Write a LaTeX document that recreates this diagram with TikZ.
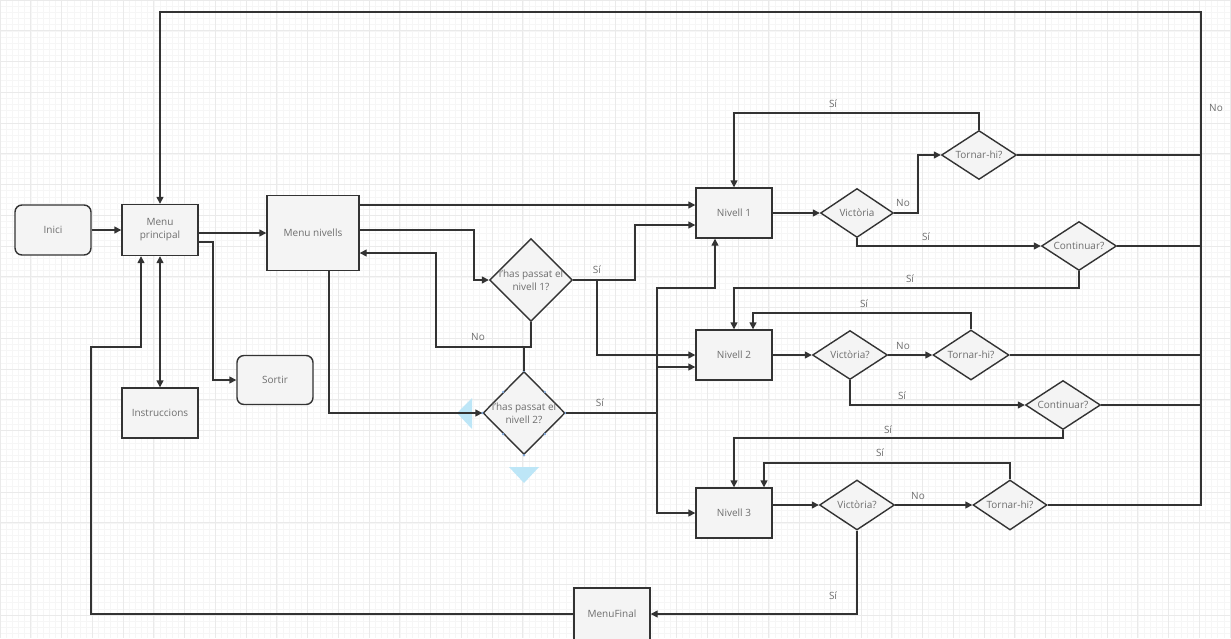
\documentclass[tikz,border=0pt]{standalone}
\usepackage{fontspec}
\setmainfont{Open Sans}
\usetikzlibrary{shapes.geometric,arrows.meta}
\definecolor{txt}{HTML}{6E6E6E}
\definecolor{edge}{HTML}{333333}
\definecolor{boxfill}{HTML}{F4F4F4}
\definecolor{gridmin}{HTML}{F6F6F6}
\definecolor{gridmaj}{HTML}{EAEAEA}
\definecolor{selblue}{HTML}{BDE6F7}
\definecolor{seldot}{HTML}{7FA8DC}
\begin{document}
\begin{tikzpicture}[x=1pt,y=-1pt,
  box/.style={draw=edge,line width=1.4pt,fill=boxfill,minimum width=76pt,minimum height=50pt,
    inner sep=0pt,text=txt,font=\fontsize{10}{13}\selectfont,align=center},
  rbox/.style={box,rounded corners=7pt},
  dia/.style={diamond,draw=edge,line width=1.4pt,fill=boxfill,inner sep=0pt,
    minimum width=75pt,minimum height=49pt},
  dtxt/.style={text=txt,font=\fontsize{10}{13}\selectfont,align=center,inner sep=0pt},
  lbl/.style={text=txt,font=\fontsize{10}{12}\selectfont,inner sep=0pt},
  con/.style={draw=edge,line width=1.4pt},
  arr/.style={con,-{Triangle[length=7pt,width=7pt]}},
  arrb/.style={con,{Triangle[length=7pt,width=7pt]}-{Triangle[length=7pt,width=7pt]}}]
\useasboundingbox (0,0) rectangle (1231,638);
\fill[white] (0,0) rectangle (1231,638);
\draw[gridmin,line width=0.5pt,step=6.15pt] (0,0) grid (1231,638);
\draw[gridmaj,line width=0.8pt,step=30.75pt] (0,0) grid (1231,638);

% selection handles
\fill[selblue] (457,413) -- (472,398) -- (472,429) -- cycle;
\fill[selblue] (509,467) -- (539,467) -- (524,483) -- cycle;

% nodes
\node[rbox] (inici) at (53,230) {Inici};
\node[box,minimum height=51pt] (mp) at (160,230) {Menu\\principal};
\node[box,minimum width=92pt,minimum height=75pt] (mn) at (313,233) {Menu nivells};
\node[rbox,minimum height=49pt] (sortir) at (275,380) {Sortir};
\node[box] (instr) at (160,413) {Instruccions};
\node[box,minimum height=52pt] (mf) at (612,614) {MenuFinal};

\node[dia,minimum width=83pt,minimum height=83pt,label={[dtxt]center:l'has passat el\\nivell 1?}] (d1) at (531,280) {};
\node[dia,minimum width=82pt,minimum height=83pt,label={[dtxt]center:l'has passat el\\nivell 2?}] (d2) at (524,413) {};
\foreach \a in {north,south,east,west,north east,north west,south east,south west}
  \fill[seldot] (d2.\a) circle (1.3pt);

\node[box] (n1) at (734,213) {Nivell 1};
\node[box] (n2) at (734,355) {Nivell 2};
\node[box] (n3) at (734,513) {Nivell 3};

\node[dia,minimum width=73pt,label={[dtxt]center:Victòria}] (v1) at (857,213) {};
\node[dia,label={[dtxt]center:Tornar-hi?}] (t1) at (979,155) {};
\node[dia,label={[dtxt]center:Continuar?}] (c1) at (1079,246) {};
\node[dia,label={[dtxt]center:Victòria?}] (v2) at (850,355) {};
\node[dia,minimum width=76pt,minimum height=50pt,label={[dtxt]center:Tornar-hi?}] (t2) at (971,355) {};
\node[dia,label={[dtxt]center:Continuar?}] (c2) at (1063,405) {};
\node[dia,minimum height=50pt,label={[dtxt]center:Victòria?}] (v3) at (857,505) {};
\node[dia,minimum width=74pt,minimum height=50pt,label={[dtxt]center:Tornar-hi?}] (t3) at (1010,505) {};

% left part
\draw[arr] (inici.east) -- (mp.west);
\draw[arr] (mp.east |- 0,233) -- (mn.west |- 0,233);
\draw[arr] (mp.east |- 0,242) -| (213,380) -- (sortir.west);
\draw[arrb] (mp.south) -- (instr.north);
\draw[arr] (mf.west) -| (91,347) -| (mp.south -| 141,0);
\draw[arr] (t3.east) -| (1201,12) -| (mp.north);
\draw[con] (t1.east) -- (t1.east -| 1201,0);
\draw[con] (c1.east) -- (c1.east -| 1201,0);
\draw[con] (t2.east) -- (t2.east -| 1201,0);
\draw[con] (c2.east) -- (c2.east -| 1201,0);
\node[lbl] (lno0) at (1216,108) {No};

% Menu nivells
\draw[arr] (mn.east |- 0,205) -- (n1.west |- 0,205);
\draw[arr] (mn.east |- 0,230) -| (474,280) -- (d1.west);
\draw[arr] (d1.east) -| (635,225) -- (n1.west |- 0,225);
\draw[arr] (d1.east -| 597,0) |- (n2.west);
\node[lbl] (lsid1) at (597,270) {Sí};
\draw[arr] (d1.south) |- (436,347) |- (mn.east |- 0,253);
\node[lbl] (lnod1) at (478,337) {No};
\draw[con] (d2.north) -- (d2.north |- 0,347);
\draw[arr] (mn.south -| 329,0) |- (d2.west);
\draw[arr] (d2.east) -| (657,288) -| (n1.south -| 715,0);
\node[lbl] (lsid2) at (600,403) {Sí};
\draw[arr] (657,367) -- (n2.west |- 0,367);
\draw[arr] (657,413) |- (n3.west);

% level 1
\draw[arr] (n1.east) -- (v1.west);
\draw[arr] (v1.east) -| (918,155) -- (t1.west);
\node[lbl] (lnov1) at (903,203) {No};
\draw[arr] (t1.north) |- (734,113) -- (n1.north);
\node[lbl] (lsit1) at (833,104) {Sí};
\draw[arr] (v1.south) |- (c1.west);
\node[lbl] (lsiv1) at (926,237) {Sí};
\draw[arr] (c1.south) |- (734,288) -- (n2.north);
\node[lbl] (lsic1) at (910,279) {Sí};

% level 2
\draw[arr] (n2.east) -- (v2.west);
\draw[arr] (v2.east) -- (t2.west);
\node[lbl] (lnov2) at (903,346) {No};
\draw[arr] (t2.north) |- (753,313) -- (n2.north -| 753,0);
\node[lbl] (lsit2) at (864,304) {Sí};
\draw[arr] (v2.south) |- (c2.west);
\node[lbl] (lsiv2) at (902,396) {Sí};
\draw[arr] (c2.south) |- (734,438) -- (n3.north);
\node[lbl] (lsic2) at (888,430) {Sí};

% level 3
\draw[arr] (n3.east |- v3.west) -- (v3.west);
\draw[arr] (v3.east) -- (t3.west);
\node[lbl] (lnov3) at (918,496) {No};
\draw[arr] (t3.north) |- (764,463) -- (n3.north -| 764,0);
\node[lbl] (lsit3) at (880,453) {Sí};
\draw[arr] (v3.south) |- (mf.east);
\node[lbl] (lsiv3) at (833,596) {Sí};
\end{tikzpicture}
\end{document}
